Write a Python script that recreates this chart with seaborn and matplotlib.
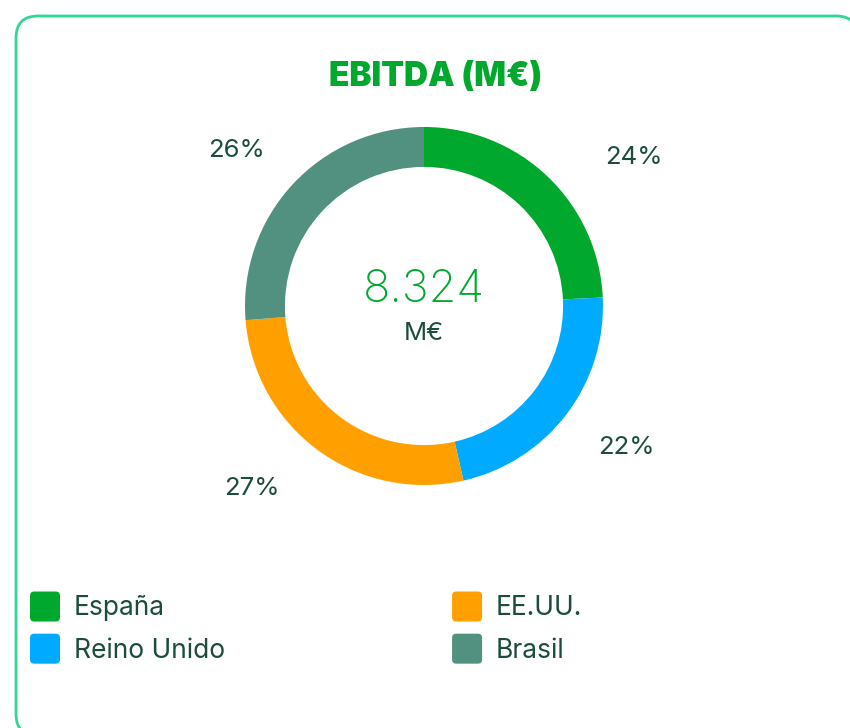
import matplotlib
matplotlib.use("Agg")
import matplotlib.pyplot as plt
import seaborn as sns
from matplotlib.patches import FancyBboxPatch
from matplotlib.legend_handler import HandlerPatch

# ---- data ----
categories = ["España", "Reino Unido", "EE.UU.", "Brasil"]
shares = [24, 22, 27, 26]
pct_labels = ["24%", "22%", "27%", "26%"]
total_value = "8.324"
total_unit = "M€"
title = "EBITDA (M€)"

# ---- style ----
colors = ["#00A82D", "#00AAFF", "#FFA000", "#52917F"]
green = "#00A82D"
dark = "#1B4D3A"
border = "#2ED894"
# label positions in units of the pie radius (layout only)
label_pos = [(1.17, 0.83), (1.13, -0.79), (-0.96, -1.02), (-1.05, 0.87)]

sns.set_theme(style="white")
plt.rcParams['font.family'] = ['Inter', 'DejaVu Sans']

W, H = 850, 728
fig = plt.figure(figsize=(W / 100, H / 100), dpi=100)
fig.patch.set_facecolor("white")

# background axes in pixel units (y down)
bg = fig.add_axes([0, 0, 1, 1])
bg.set_xlim(0, W)
bg.set_ylim(H, 0)
bg.axis("off")
card = FancyBboxPatch((16, 16), 842, 720, boxstyle="round,pad=0,rounding_size=22",
                      facecolor="white", edgecolor=border, linewidth=2.0)
bg.add_patch(card)

bg.text(436, 77, title, ha="center", va="center", fontsize=24, fontweight="black",
        color=green)

# donut
cx, cy, R = 424, 306, 179
ax = fig.add_axes([(cx - R) / W, 1 - (cy + R) / H, 2 * R / W, 2 * R / H])
wedges, _ = ax.pie(shares, colors=colors, startangle=90, counterclock=False,
                   radius=1, wedgeprops=dict(width=0.223, edgecolor="none"))
ax.set_xlim(-1, 1)
ax.set_ylim(-1, 1)
ax.set_aspect("equal")
ax.axis("off")

for (lx, ly), lab in zip(label_pos, pct_labels):
    ax.text(lx, ly, lab, ha="center", va="center", fontsize=18.5,
            fontweight="normal", color=dark)

ax.text(0, 0.09, total_value, ha="center", va="center", fontsize=32.5,
        fontweight="light", color=green)
ax.text(0, -0.155, total_unit, ha="center", va="center", fontsize=18.5,
        fontweight="normal", color=dark)


class RoundSquare(HandlerPatch):
    def create_artists(self, legend, orig_handle, xdescent, ydescent, width,
                       height, fontsize, trans):
        y0 = -ydescent + (height - width) / 2
        p = FancyBboxPatch((-xdescent, y0), width, width,
                           boxstyle="round,pad=0,rounding_size=3",
                           facecolor=orig_handle.get_facecolor(),
                           edgecolor="none", transform=trans)
        return [p]


fs = 19
fs_px = fs * 100 / 72
leg = fig.legend(wedges, categories, loc="upper left",
                 bbox_to_anchor=(30 / W, 1 - 593 / H), ncol=2, frameon=False,
                 fontsize=fs, handlelength=30 / fs_px, handleheight=1.2,
                 handletextpad=14 / fs_px, labelspacing=0.52, columnspacing=8.6,
                 borderpad=0, borderaxespad=0,
                 handler_map={matplotlib.patches.Wedge: RoundSquare()})
for t in leg.get_texts():
    t.set_color(dark)
    t.set_fontweight("normal")

fig.savefig("out.png", dpi=100, facecolor="white")
